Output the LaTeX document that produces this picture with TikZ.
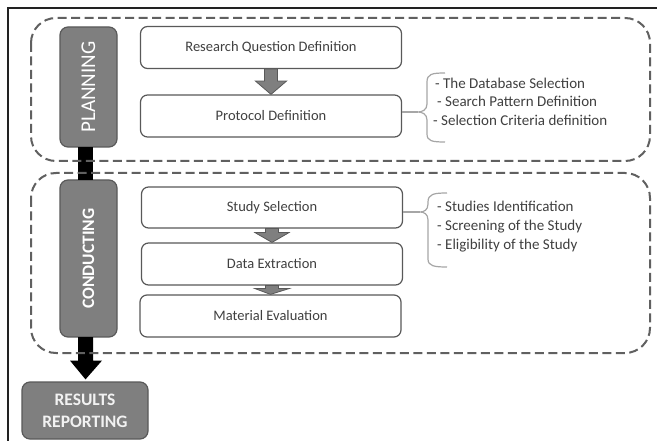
\documentclass[tikz,border=0pt]{standalone}
\usepackage{fontspec}
\setmainfont{Carlito}
\usetikzlibrary{calc}
\definecolor{pillF}{HTML}{7F7F7F}
\definecolor{pillB}{HTML}{595959}
\definecolor{boxB}{HTML}{595959}
\definecolor{dashC}{HTML}{606060}
\definecolor{txt}{HTML}{404040}
\definecolor{braceC}{HTML}{A6A6A6}
\definecolor{frameC}{HTML}{222222}
\begin{document}
\begin{tikzpicture}[x=1pt,y=-1pt,
 pill/.style={draw=pillB, fill=pillF, line width=1.2pt, rounded corners=8pt, inner sep=0pt},
 wbox/.style={draw=boxB, fill=white, line width=1.2pt, rounded corners=7pt, minimum width=261pt, minimum height=42pt, inner sep=0pt, font=\fontsize{14.5}{16}\selectfont, text=txt},
 phase/.style={draw=dashC, line width=2pt, dash pattern=on 9pt off 4.5pt, rounded corners=25pt},
 blk/.style={fill=black},
 garrow/.style={fill=pillF, draw=pillB, line width=0.8pt},
 brace/.style={draw=braceC, line width=1.2pt},
 itm/.style={text=txt, font=\fontsize{15}{18.5}\selectfont, align=left, anchor=west, inner sep=0pt},
 ptext/.style={text=white, rotate=90, inner sep=0pt}
]
\fill[white] (0,0) rectangle (657,441);
\useasboundingbox (0,0) rectangle (657,441);
\draw[line width=2.5pt, frameC] (8,441) -- (8,8) -- (657,8);

% phase pills
\node[pill, minimum width=57pt, minimum height=120pt] (plan) at (88.5,87) {};
\node[ptext, font=\fontsize{21}{21}\selectfont] (planT) at (plan) {PLANNING};
\node[pill, minimum width=57pt, minimum height=157pt] (cond) at (88.5,258.5) {};
\node[ptext, font=\fontsize{17.5}{17.5}\selectfont\bfseries] (condT) at (cond) {CONDUCTING};
\node[pill, minimum width=126pt, minimum height=57pt, align=center, text=white!95!black,
      font=\fontsize{17.5}{22}\selectfont\bfseries] (res) at (85,410.5) {RESULTS\\REPORTING};

% black connectors
\fill[blk] ($(plan.south)+(-10.5,-0.5)$) rectangle ($(cond.north)+(4.5,0.5)$);
\fill[blk] ($(cond.south)+(-10.5,-0.5)$) -- ($(cond.south)+(4.5,-0.5)$)
  -- ($(cond.south)+(4.5,23)$) -- ($(cond.south)+(13.5,23)$)
  -- ($(res.north)+(0.5,-2)$) -- ($(cond.south)+(-18.5,23)$)
  -- ($(cond.south)+(-10.5,23)$) -- cycle;

% phase frames
\draw[phase] (31,18) rectangle (650,161);
\draw[phase] (31,173) rectangle (650,353);

% step boxes
\node[wbox] (rq) at (271,47.5) {Research Question Definition};
\node[wbox] (pd) at (271,116) {Protocol Definition};
\node[wbox, minimum height=41pt] (ss) at (272,207.5) {Study Selection};
\node[wbox] (de) at (272,264) {Data Extraction};
\node[wbox] (me) at (270.5,316) {Material Evaluation};

% gray block arrows
\draw[garrow] ($(rq.south)+(-6.5,0)$) -- ($(rq.south)+(6.5,0)$) -- ($(rq.south)+(6.5,12)$)
  -- ($(rq.south)+(15.5,12)$) -- (pd.north) -- ($(rq.south)+(-15.5,12)$)
  -- ($(rq.south)+(-6.5,12)$) -- cycle;
\draw[garrow] ($(ss.south)+(-6.5,0)$) -- ($(ss.south)+(6.5,0)$) -- ($(ss.south)+(6.5,4)$)
  -- ($(ss.south)+(17,4)$) -- (de.north) -- ($(ss.south)+(-17,4)$)
  -- ($(ss.south)+(-6.5,4)$) -- cycle;
\draw[garrow] ($(de.south)+(-6.5,0)$) -- ($(de.south)+(6.5,0)$) -- ($(de.south)+(6.5,3)$)
  -- ($(de.south)+(17,3)$) -- (me.north) -- ($(de.south)+(-17,3)$)
  -- ($(de.south)+(-6.5,3)$) -- cycle;

% braces and lists
\coordinate (c1) at (418,112);
\draw[brace] (pd.east |- c1) -- (c1);
\draw[brace] (445,73) .. controls (432,73) and (427,74) .. (427,82) -- (427,104)
  .. controls (427,110) and (422,112) .. (c1) .. controls (422,112) and (427,114) .. (427,120)
  -- (427,134) .. controls (427,141) and (432,142) .. (445,142);
\node[itm] (l1) at (433,101.5) {\hspace{2pt}- The Database Selection\\\hspace{4pt}- Search Pattern Definition\\- Selection Criteria definition};

\coordinate (c2) at (420,212);
\draw[brace] (ss.east |- c2) -- (c2);
\draw[brace] (447,193) .. controls (434,193) and (428,194) .. (428,202) -- (428,204)
  .. controls (428,210) and (424,212) .. (c2) .. controls (424,212) and (428,214) .. (428,220)
  -- (428,259) .. controls (428,266) and (434,267) .. (447,267);
\node[itm, font=\fontsize{15}{19}\selectfont] (l2) at (437,227) {- Studies Identification\\- Screening of the Study\\- Eligibility of the Study};
\end{tikzpicture}
\end{document}
